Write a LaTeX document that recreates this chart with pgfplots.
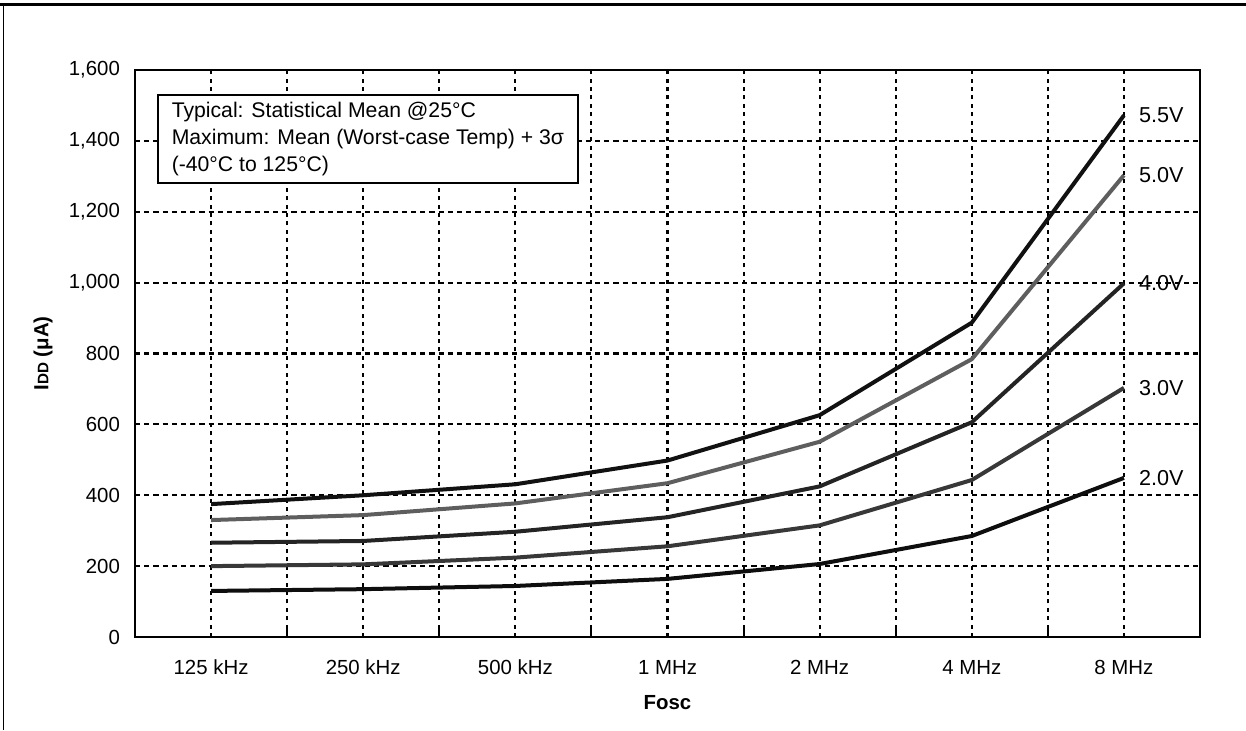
\documentclass[border=0pt]{standalone}
\usepackage{pgfplots}
\pgfplotsset{compat=1.18}
\usepackage{fontspec}
\setmainfont{Liberation Sans}
\definecolor{cA}{HTML}{111111}
\definecolor{cB}{HTML}{5E5E5E}
\definecolor{cC}{HTML}{242424}
\definecolor{cD}{HTML}{383838}
\definecolor{cE}{HTML}{0E0E0E}
\begin{document}
\begin{tikzpicture}
\begin{axis}[
  at={(67.5pt,46.5pt)}, anchor=south west,
  scale only axis, width=532.5pt, height=283.5pt,
  xmin=-0.5, xmax=6.5, ymin=0, ymax=1600,
  clip=false,
  xtick={0,...,6},
  xticklabels={125 kHz,250 kHz,500 kHz,1 MHz,2 MHz,4 MHz,8 MHz},
  minor xtick={0.5,1.5,2.5,3.5,4.5,5.5},
  ytick={0,200,...,1600},
  xtick pos=bottom, ytick pos=left,
  major tick length=0pt, minor tick length=5pt, tick align=inside,
  tick style={line width=1pt, black},
  axis line style={line width=1pt},
  xmajorgrids, xminorgrids, ymajorgrids,
  x grid style={black, line width=1.05pt, dash pattern=on 2pt off 2.2pt},
  y grid style={black, line width=1.05pt, dash pattern=on 2.6pt off 2pt},
  /pgf/number format/1000 sep={,},
  /pgf/number format/assume math mode=true,
  tick label style={font=\fontsize{10.2}{12}\selectfont},
  xticklabel style={yshift=-8pt},
  yticklabel style={xshift=-4pt},
  xlabel={\textbf{Fosc}},
  ylabel={\textbf{I{\fontsize{7.6}{8}\selectfont DD} (μA)}},
  label style={font=\fontsize{10.2}{12}\selectfont},
  xlabel style={at={(axis description cs:0.5,-0.1164)}, anchor=center},
  ylabel style={at={(axis description cs:-0.0864,0.5)}, anchor=center},
  every axis plot/.append style={line width=2pt, line join=round},
]
\addplot[cA] coordinates {(0,375) (1,400) (2,431) (3,498) (4,626) (5,887) (6,1472)};
\addplot[cB] coordinates {(0,330) (1,344) (2,377) (3,434) (4,551) (5,784) (6,1303)};
\addplot[cC] coordinates {(0,266) (1,271) (2,297) (3,338) (4,425) (5,606) (6,998)};
\addplot[cD] coordinates {(0,200) (1,205) (2,224) (3,256) (4,315) (5,443) (6,703)};
\addplot[cE] coordinates {(0,130) (1,135) (2,144) (3,164) (4,206) (5,285) (6,449)};
\begin{scope}[every node/.style={anchor=west, xshift=4pt, font=\fontsize{10.8}{12}\selectfont}]
\node at (axis cs:6,1472) {5.5V};
\node at (axis cs:6,1303) {5.0V};
\node at (axis cs:6,998) {4.0V};
\node at (axis cs:6,703) {3.0V};
\node at (axis cs:6,449) {2.0V};
\end{scope}
\node[draw, line width=1pt, fill=white, anchor=north west, align=left,
      inner xsep=7pt, inner ysep=3.5pt, font=\fontsize{10.6}{13.5}\selectfont]
  at (axis cs:-0.357,1531)
  {Typical: Statistical Mean @25°C\\Maximum: Mean (Worst-case Temp) + 3σ\\(-40°C to 125°C)};
\end{axis}
\draw[line width=1.35pt] (0,362.75pt) -- (623pt,362.75pt);
\draw[line width=0.65pt] (1.75pt,0) -- (1.75pt,362.75pt);
\pgfresetboundingbox
\path[use as bounding box] (0,0) rectangle (623pt,365pt);
\end{tikzpicture}
\end{document}
